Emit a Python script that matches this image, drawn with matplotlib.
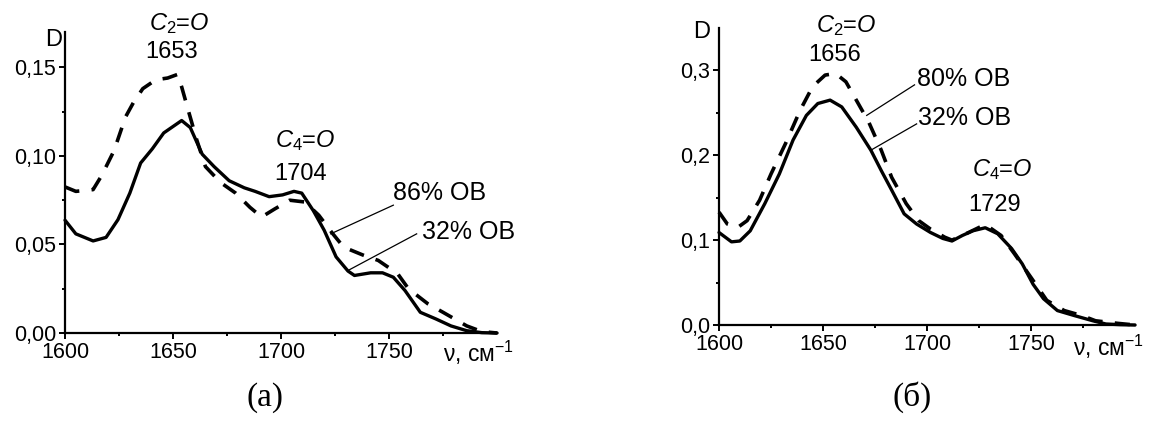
# IR spectra of two samples: (a) and (б) panels, D vs wavenumber

import matplotlib
matplotlib.use('Agg')
import matplotlib.pyplot as plt

plt.rcParams['font.family'] = ['Liberation Sans', 'DejaVu Sans']
plt.rcParams['mathtext.fontset'] = 'custom'
plt.rcParams['mathtext.rm'] = 'Liberation Sans'
plt.rcParams['mathtext.it'] = 'Liberation Sans:italic'
plt.rcParams['mathtext.bf'] = 'Liberation Sans:bold'

# panel (a): 32% OB (solid) and 86% OB (dashed)
a_solid_x = [1600, 1605, 1613, 1619, 1624.5, 1630, 1635, 1640.4, 1645.7, 1654, 1658, 1663.5,
             1669, 1676, 1683, 1688, 1694.5, 1700.7, 1706, 1709.6, 1715, 1720, 1725.5, 1731,
             1734, 1741.5, 1747, 1752, 1757.4, 1764.5, 1771.6, 1778.7, 1786, 1793, 1800]
a_solid_y = [0.0637, 0.056, 0.052, 0.054, 0.064, 0.079, 0.096, 0.104, 0.113, 0.120, 0.116, 0.101,
             0.094, 0.086, 0.082, 0.080, 0.077, 0.078, 0.080, 0.079, 0.069, 0.058, 0.043, 0.035,
             0.0325, 0.034, 0.034, 0.0315, 0.024, 0.0117, 0.008, 0.004, 0.0013, 0.0002, 0.0]
a_dash_x = [1600, 1605, 1613, 1617, 1622.7, 1628, 1631.6, 1636, 1642, 1647.5, 1652, 1654, 1657,
            1661, 1665, 1672, 1679, 1685.6, 1691, 1697, 1704, 1711, 1717.5, 1724, 1729, 1738,
            1745, 1754, 1759, 1768, 1775, 1786, 1793, 1800]
a_dash_y = [0.0825, 0.080, 0.081, 0.089, 0.103, 0.122, 0.130, 0.138, 0.143, 0.144, 0.146, 0.139,
            0.126, 0.109, 0.094, 0.085, 0.079, 0.071, 0.0655, 0.070, 0.075, 0.074, 0.0665, 0.056,
            0.0485, 0.044, 0.041, 0.0335, 0.025, 0.0165, 0.0117, 0.004, 0.0008, 0.0]

# panel (б): 32% OB (solid) and 80% OB (dashed)
b_solid_x = [1600, 1606, 1610, 1615, 1622, 1629, 1635.6, 1642, 1647.5, 1653.4, 1659, 1666, 1673,
             1678, 1683, 1689, 1695, 1701.7, 1707.6, 1712, 1717, 1722, 1728, 1734, 1740.7,
             1745.8, 1751, 1756, 1762.7, 1771, 1779.7, 1786, 1793, 1800]
b_solid_y = [0.109, 0.098, 0.099, 0.111, 0.143, 0.178, 0.218, 0.247, 0.261, 0.265, 0.257, 0.233,
             0.206, 0.182, 0.159, 0.131, 0.119, 0.109, 0.102, 0.099, 0.1055, 0.111, 0.1146,
             0.1075, 0.090, 0.072, 0.048, 0.031, 0.017, 0.011, 0.005, 0.0012, 0.0004, 0.0]
b_dash_x = [1600, 1604, 1609, 1613.5, 1619.5, 1625, 1632, 1639, 1645, 1651, 1656, 1661, 1666,
            1672, 1678, 1683, 1690, 1696, 1701.7, 1708.5, 1712, 1720, 1728, 1735.6, 1742, 1750,
            1757.6, 1766, 1774.6, 1781, 1791.5, 1800]
b_dash_y = [0.133, 0.119, 0.115, 0.123, 0.147, 0.178, 0.214, 0.253, 0.281, 0.2945, 0.2965,
            0.2866, 0.265, 0.239, 0.206, 0.174, 0.143, 0.123, 0.113, 0.1035, 0.100, 0.109,
            0.1185, 0.1055, 0.084, 0.056, 0.029, 0.017, 0.011, 0.005, 0.002, 0.0]

x_ticks = [1600, 1650, 1700, 1750]
a_yticks = [0.0, 0.05, 0.10, 0.15]
a_ytick_labels = ['0,00', '0,05', '0,10', '0,15']
b_yticks = [0.0, 0.1, 0.2, 0.3]
b_ytick_labels = ['0,0', '0,1', '0,2', '0,3']

TICK_FS = 15.5
NUM_FS = 17
OB_FS = 18


def style_axes(ax, ymax, yticks, ylabels, yminor):
    ax.set_xlim(1600, 1800)
    ax.set_ylim(0, ymax)
    ax.spines['top'].set_visible(False)
    ax.spines['right'].set_visible(False)
    ax.spines['left'].set_linewidth(1.6)
    ax.spines['bottom'].set_linewidth(1.6)
    ax.set_xticks(x_ticks)
    ax.set_xticks([1625, 1675, 1725, 1775], minor=True)
    ax.set_yticks(yticks)
    ax.set_yticklabels(ylabels)
    ax.set_yticks(yminor, minor=True)
    ax.tick_params(which='major', length=4.5, width=1.4, labelsize=TICK_FS, pad=2)
    ax.tick_params(which='minor', length=2.5, width=1.4)


def draw_curves(ax, sx, sy, dx, dy):
    ax.plot(sx, sy, color='black', lw=2.4, solid_joinstyle='round',
            solid_capstyle='round', clip_on=False)
    ax.plot(dx, dy, color='black', lw=2.6, dashes=(4.2, 3.4),
            dash_joinstyle='round', clip_on=False)


fig = plt.figure(figsize=(11.51, 4.21), dpi=100)

# panel (a)
ax1 = fig.add_axes([0.0565, 0.209, 0.3753, 0.715])
draw_curves(ax1, a_solid_x, a_solid_y, a_dash_x, a_dash_y)
style_axes(ax1, 0.17, a_yticks, a_ytick_labels, [0.025, 0.075, 0.125])
ax1.text(1598.5, 0.1655, 'D', fontsize=NUM_FS, ha='right', va='center')
ax1.text(1652.7, 0.1747, r'$C_2$=$O$', fontsize=NUM_FS, ha='center', va='center', clip_on=False)
ax1.text(1649.5, 0.1587, '1653', fontsize=NUM_FS, ha='center', va='center')
ax1.text(1711.3, 0.1086, r'$C_4$=$O$', fontsize=NUM_FS, ha='center', va='center')
ax1.text(1709, 0.090, '1704', fontsize=NUM_FS, ha='center', va='center')
ax1.text(1752, 0.0793, '86% OB', fontsize=OB_FS, ha='left', va='center')
ax1.text(1765.4, 0.057, '32% OB', fontsize=OB_FS, ha='left', va='center')
ax1.plot([1752, 1723], [0.0722, 0.056], color='black', lw=0.9)
ax1.plot([1762.8, 1731], [0.056, 0.0353], color='black', lw=0.9)
ax1.text(1775, -0.011, r'ν, см$^{-1}$', fontsize=16.5, ha='left', va='center')
fig.text(265 / 1151, 1 - 398 / 421, '(а)', fontsize=24, family='Liberation Serif',
         ha='center', va='center')

# panel (б)
ax2 = fig.add_axes([0.6247, 0.228, 0.3614, 0.7055])
draw_curves(ax2, b_solid_x, b_solid_y, b_dash_x, b_dash_y)
style_axes(ax2, 0.35, b_yticks, b_ytick_labels, [0.05, 0.15, 0.25])
ax2.text(1595.9, 0.3447, 'D', fontsize=NUM_FS, ha='right', va='center')
ax2.text(1661, 0.353, r'$C_2$=$O$', fontsize=NUM_FS, ha='center', va='center', clip_on=False)
ax2.text(1655.5, 0.3176, '1656', fontsize=NUM_FS, ha='center', va='center')
ax2.text(1736, 0.183, r'$C_4$=$O$', fontsize=NUM_FS, ha='center', va='center')
ax2.text(1732.5, 0.142, '1729', fontsize=NUM_FS, ha='center', va='center')
ax2.text(1695, 0.290, '80% OB', fontsize=OB_FS, ha='left', va='center')
ax2.text(1695.8, 0.2445, '32% OB', fontsize=OB_FS, ha='left', va='center')
ax2.plot([1694, 1671], [0.283, 0.247], color='black', lw=0.9)
ax2.plot([1695, 1673], [0.237, 0.206], color='black', lw=0.9)
ax2.text(1770.4, -0.026, r'ν, см$^{-1}$', fontsize=16.5, ha='left', va='center')
fig.text(912 / 1151, 1 - 397 / 421, '(б)', fontsize=24, family='Liberation Serif',
         ha='center', va='center')

fig.savefig('out.png', dpi=100)
